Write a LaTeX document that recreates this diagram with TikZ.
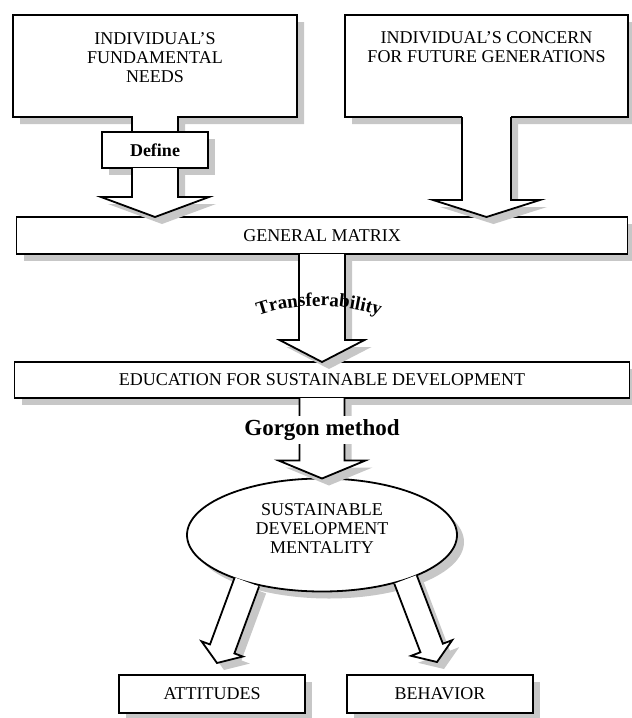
\documentclass[tikz,border=0pt]{standalone}
\usepackage{fontspec}
\setmainfont{Liberation Serif}
\usetikzlibrary{shapes.geometric,positioning,shadows,calc,backgrounds,decorations.text}
\tikzset{
  shadowed/.style = {drop shadow={shadow xshift=7pt, shadow yshift=-7pt, fill=black!22, opacity=1}},
  basic/.style    = {rectangle, line width=1.8pt, outer sep=0pt, inner sep=0pt, align=center,
                     font=\fontsize{18}{19}\selectfont},
  headbox/.style  = {basic, minimum width=284pt, minimum height=102pt},
  tagbox/.style   = {basic, draw, fill=white, shadowed, minimum width=106pt, minimum height=36pt,
                     font=\bfseries\fontsize{18}{19}\selectfont},
  barbox/.style   = {basic, draw, fill=white, shadowed, minimum height=37pt},
  endbox/.style   = {basic, draw, fill=white, shadowed, minimum width=186pt, minimum height=38pt},
  bubble/.style   = {basic, ellipse, draw, fill=white, shadowed, minimum width=270pt, minimum height=113pt},
  outline/.style  = {line width=1.8pt, fill=white, shadowed},
  fatarrow/.style = {outline}
}

% #1 start, #2 tip, #3 shaft half width, #4 head half width, #5 head length
\newcommand{\blockarrow}[5]{%
  \coordinate (bahead) at ($(#2)!#5!(#1)$);
  \draw[fatarrow] ($(#1)!#3!90:(#2)$) -- ($(bahead)!#3!-90:(#1)$) -- ($(bahead)!#4!-90:(#1)$)
    -- (#2) -- ($(bahead)!#4!90:(#1)$) -- ($(bahead)!#3!90:(#1)$) -- ($(#1)!#3!-90:(#2)$);
}

\begin{document}
\begin{tikzpicture}[x=1pt, y=1pt, >=latex]
\useasboundingbox (0,0) rectangle (632,-718);

% top row
\node[headbox, text depth=16pt] (needs) at (155,-66) {INDIVIDUAL'S\\FUNDAMENTAL\\NEEDS};
\node[headbox, text depth=37pt, minimum width=283pt, right of=needs, node distance=331.5pt] (concern)
  {INDIVIDUAL'S CONCERN\\FOR FUTURE GENERATIONS};
\node[tagbox, below of=needs, node distance=84pt] (define) {Define};

% middle bars
\node[barbox, minimum width=611pt, below of=define, node distance=85.5pt, xshift=167pt] (matrix) {GENERAL MATRIX};
\node[barbox, minimum width=615pt, minimum height=36pt, below of=matrix, node distance=144.5pt] (educ)
  {EDUCATION FOR SUSTAINABLE DEVELOPMENT};

\node[bubble, text depth=12pt, below of=educ, node distance=155pt] (mentality)
  {SUSTAINABLE\\DEVELOPMENT\\MENTALITY};

% bottom row
\node[endbox, below of=mentality, node distance=159pt, xshift=-110pt] (attitudes) {ATTITUDES};
\node[endbox, right of=attitudes, node distance=228pt] (behavior) {BEHAVIOR};

% callout outlines
\begin{pgfonlayer}{background}
\draw[outline] ($(define.north)+(23pt,0)$) -- ($(needs.south)+(23pt,0)$) -- (needs.south east)
  -- (needs.north east) -- (needs.north west) -- (needs.south west)
  -- ($(needs.south)+(-23pt,0)$) -- ($(define.north)+(-23pt,0)$);
\draw[outline] ($(concern.south)+(24.5pt,0)$) -- (concern.south east) -- (concern.north east)
  -- (concern.north west) -- (concern.south west) -- ($(concern.south)+(-24.5pt,0)$);
\end{pgfonlayer}

% block arrows
\coordinate (d2m) at (define.south |- matrix.north);
\coordinate (c2m) at (concern.south |- matrix.north);
\coordinate (m2e) at (matrix.south |- educ.north);
\coordinate (atip) at ($(attitudes.north)+(5pt,12pt)$);
\coordinate (btip) at ($(behavior.north)+(-3pt,13pt)$);

\blockarrow{define.south}{d2m}{23pt}{54pt}{20pt}
\blockarrow{concern.south}{c2m}{24.5pt}{53.5pt}{17pt}
\blockarrow{matrix.south}{m2e}{23pt}{42.5pt}{22pt}
\blockarrow{educ.south}{mentality.north}{22.5pt}{43.5pt}{18pt}
\blockarrow{mentality.212}{atip}{13pt}{22pt}{15pt}
\blockarrow{mentality.332}{btip}{12pt}{22pt}{15pt}

% arrow labels
\node[below of=educ, node distance=50pt, fill=white, inner sep=3pt,
  font=\bfseries\fontsize{23}{23}\selectfont] (gorgon) {Gorgon method};
\path[decorate, decoration={text along path, text align=center,
  text={|\bfseries\fontsize{19}{19}\selectfont|Transferability}}]
  (252,-318) .. controls (291,-302) and (347,-302) .. (386,-318);

\end{tikzpicture}
\end{document}
